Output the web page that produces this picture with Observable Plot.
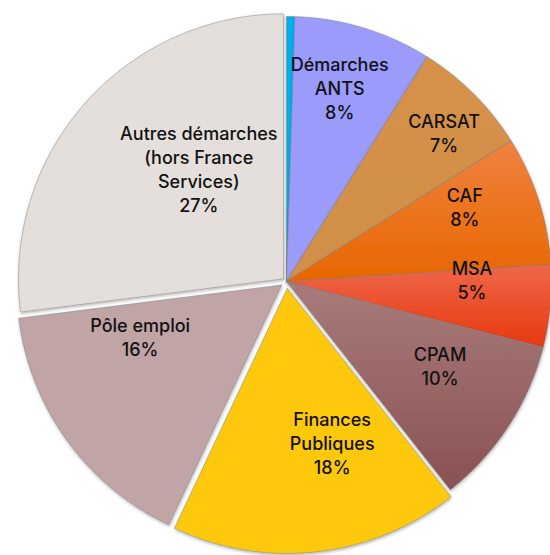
<!DOCTYPE html>
<html><head><meta charset="utf-8">
<script src="https://cdn.jsdelivr.net/npm/d3@7"></script>
<script src="https://cdn.jsdelivr.net/npm/@observablehq/plot@0.6"></script>
<style>body{margin:0;background:#fff;overflow:hidden} svg{display:block}</style>
</head><body><div id="chart"></div>
<script>
// ---- data ----
const categories = ["Autres (France Services)", "Démarches ANTS", "CARSAT", "CAF", "MSA", "CPAM", "Finances Publiques", "Pôle emploi", "Autres démarches (hors France Services)"];
const values = [0.5, 8.4, 7.2, 7.9, 5.0, 10.4, 17.6, 16.0, 27.0];
const labelLines = [[], ["Démarches", "ANTS"], ["CARSAT"], ["CAF"], ["MSA"], ["CPAM"], ["Finances", "Publiques"], ["Pôle emploi"], ["Autres démarches", "(hors France", "Services)"]];

// ---- style / layout ----
const colorsTop    = ["#00b0f0", "#9b9bfb", "#d6914a", "#f0823f", "#ee6749", "#a97b7b", "#fec80b", "#c1a4a5", "#e5dfdc"];
const colorsBottom = ["#00b0f0", "#9b9bfb", "#d18f48", "#e86600", "#e8380f", "#8a5252", "#fec80b", "#c1a4a5", "#e5dfdc"];
const explode   = [0, 0, 0, 0, 0, 0, 7, 6, 4];
const labelFrac = [0, .76, .82, .73, .70, .66, .63, .59, .54];
const labelTurn = [0, -1.6, 1.5, -5, -6, -4.5, -9.4, 15.4, 10.8];
const W = 550, H = 555, CX = 286, CY = 281, R = 265;

// ---- geometry from data ----
const total = d3.sum(values);
let acc = 0;
const slices = values.map((v, i) => {
  const a0 = acc / total * 2 * Math.PI; acc += v;
  const a1 = acc / total * 2 * Math.PI;
  const m = (a0 + a1) / 2;
  const ox = Math.sin(m) * explode[i] / R, oy = -Math.cos(m) * explode[i] / R;
  const pts = [{x: ox, y: oy}];
  const n = Math.max(2, Math.ceil((a1 - a0) / (Math.PI / 360)));
  for (let k = 0; k <= n; k++) {
    const a = a0 + (a1 - a0) * k / n;
    pts.push({x: ox + Math.sin(a), y: oy - Math.cos(a)});
  }
  pts.push({x: ox, y: oy});
  return {i, name: categories[i], value: v, a0, a1, m, pts};
});

const labels = slices.filter(s => labelLines[s.i].length).map(s => {
  const a = s.m + labelTurn[s.i] * Math.PI / 180;
  return {
    x: Math.sin(a) * labelFrac[s.i],
    y: -Math.cos(a) * labelFrac[s.i],
    text: [...labelLines[s.i], `${Math.round(s.value / total * 100)}%`].join("\n")
  };
});

const marks = slices.map(s => Plot.line(s.pts, {
  x: "x", y: "y", fill: `url(#grad${s.i})`,
  stroke: "#7c7c7c", strokeWidth: 0.6, strokeOpacity: 0.8, curve: "linear"
}));
marks.push(Plot.text(labels, {
  x: "x", y: "y", text: "text",
  fontSize: 18, fontWeight: 500, lineHeight: 1.34,
  fontFamily: "Inter, 'Noto Sans', sans-serif", fill: "#111"
}));

const svg = Plot.plot({
  width: W, height: H, margin: 0,
  style: {background: "#fff", overflow: "visible"},
  x: {domain: [-CX / R, (W - CX) / R], range: [0, W], axis: null},
  y: {domain: [-CY / R, (H - CY) / R], range: [0, H], axis: null},
  marks
});

// gradients and shadow
const ns = "http://www.w3.org/2000/svg";
const defs = document.createElementNS(ns, "defs");
slices.forEach(s => {
  const g = document.createElementNS(ns, "linearGradient");
  g.setAttribute("id", `grad${s.i}`);
  g.setAttribute("x1", "0"); g.setAttribute("y1", "0");
  g.setAttribute("x2", "0"); g.setAttribute("y2", "1");
  [[0, colorsTop[s.i]], [1, colorsBottom[s.i]]].forEach(([o, c]) => {
    const st = document.createElementNS(ns, "stop");
    st.setAttribute("offset", o); st.setAttribute("stop-color", c);
    g.appendChild(st);
  });
  defs.appendChild(g);
});
const f = document.createElementNS(ns, "filter");
f.setAttribute("id", "shadow");
f.setAttribute("x", "-10%"); f.setAttribute("y", "-10%");
f.setAttribute("width", "120%"); f.setAttribute("height", "120%");
const ds = document.createElementNS(ns, "feDropShadow");
ds.setAttribute("dx", "0.5"); ds.setAttribute("dy", "1.5");
ds.setAttribute("stdDeviation", "1.5");
ds.setAttribute("flood-color", "#000"); ds.setAttribute("flood-opacity", "0.3");
f.appendChild(ds); defs.appendChild(f);
svg.insertBefore(defs, svg.firstChild);
svg.querySelectorAll('g[aria-label="line"] path').forEach(p => p.setAttribute("filter", "url(#shadow)"));

document.getElementById("chart").appendChild(svg);
</script>
</body></html>
